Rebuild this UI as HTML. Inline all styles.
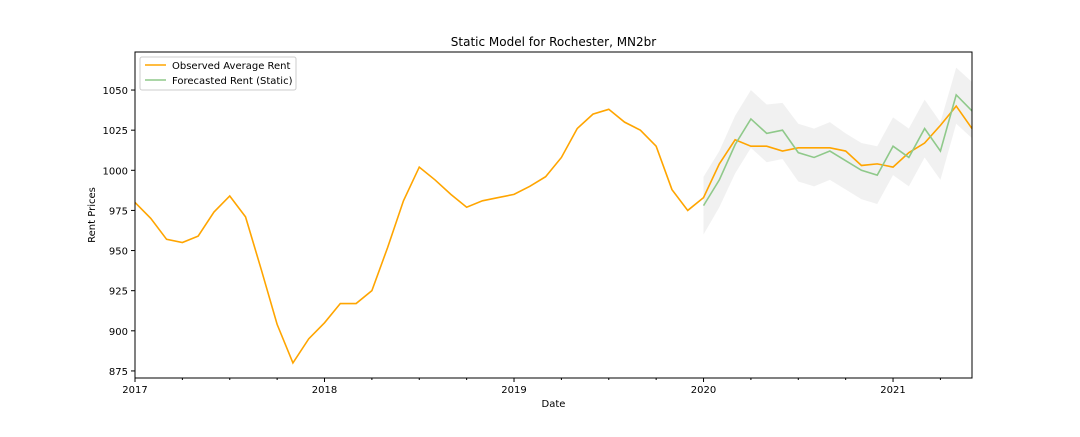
<!DOCTYPE html>
<html><head><meta charset="utf-8"><style>
body{margin:0;background:#fff;}
svg text{font-family:"DejaVu Sans","Liberation Sans",sans-serif;fill:#000;}
</style></head><body>
<svg id="chart" width="1080" height="432"></svg>
<script>
const observedStart = [2017, 1];
const observed = [980,970,957,955,959,974,984,971,938,904,880,895,
905,917,917,925,952,981,1002,994,985,977,981,983,
985,990,996,1008,1026,1035,1038,1030,1025,1015,988,975,
983,1004,1019,1015,1015,1012,1014,1014,1014,1012,1003,1004,
1002,1011,1017,1028,1040,1026];
const forecastStart = [2020, 1];
const forecast = [978,994,1016,1032,1023,1025,1011,1008,1012,1006,1000,997,1015,1008,1026,1012,1047,1037];
const upper = [996,1012,1034,1050,1041,1042,1029,1026,1030,1023,1017,1015,1033,1026,1044,1030,1064,1055];
const lower = [960,977,998,1014,1005,1007,993,990,994,988,982,979,997,990,1008,994,1029,1020];
const yTicks = [875,900,925,950,975,1000,1025,1050];
const xTickYears = [2017,2018,2019,2020,2021];

const L=135,R=972,T=52,B=378;
const tMin=2017, tMax=2021+5/12;
const yMin=870.6, yMax=1073.7;
const sx=t=>L+(t-tMin)/(tMax-tMin)*(R-L);
const sy=v=>B-(v-yMin)/(yMax-yMin)*(B-T);
const mt=(s,i)=>s[0]+(s[1]-1+i)/12;
const svg=document.getElementById('chart');
const NS='http://www.w3.org/2000/svg';
function mk(tag,attrs,parent){const e=document.createElementNS(NS,tag);for(const k in attrs)e.setAttribute(k,attrs[k]);(parent||svg).appendChild(e);return e;}

let pts=upper.map((v,i)=>sx(mt(forecastStart,i))+','+sy(v));
for(let i=lower.length-1;i>=0;i--)pts.push(sx(mt(forecastStart,i))+','+sy(lower[i]));
const band=mk('polygon',{points:pts.join(' '),fill:'#000','fill-opacity':0.055,stroke:'none'});



const obs=mk('polyline',{points:observed.map((v,i)=>sx(mt(observedStart,i))+','+sy(v)).join(' '),fill:'none',stroke:'#ffa500','stroke-width':1.6});


const fc=mk('polyline',{points:forecast.map((v,i)=>sx(mt(forecastStart,i))+','+sy(v)).join(' '),fill:'none',stroke:'#8fc98a','stroke-width':1.6});



const fr=mk('rect',{x:L,y:T,width:R-L,height:B-T,fill:'none',stroke:'#000','stroke-width':1});



yTicks.forEach(v=>{
  const y=sy(v);
  mk('line',{x1:L-4,x2:L,y1:y,y2:y,stroke:'#000'});
  const t=mk('text',{x:L-7,y:y+4,'text-anchor':'end','font-size':10});
  t.textContent=v;
  
  
});
for(let m=0;m<=53;m+=3){
  const x=sx(2017+m/12);
  const major=m%12===0;
  mk('line',{x1:x,x2:x,y1:B,y2:B+(major?4:2),stroke:'#000'});
}
xTickYears.forEach(yr=>{
  const t=mk('text',{x:sx(yr),y:B+15,'text-anchor':'middle','font-size':10});
  t.textContent=yr;
  
  
});
const tt=mk('text',{x:(L+R)/2,y:46,'text-anchor':'middle','font-size':12});
tt.textContent='Static Model for Rochester, MN2br';


const xl=mk('text',{x:(L+R)/2,y:407,'text-anchor':'middle','font-size':10});
xl.textContent='Date';


const yl=mk('text',{x:95,y:(T+B)/2,'text-anchor':'middle','font-size':10,transform:'rotate(-90 95 '+((T+B)/2)+')'});
yl.textContent='Rent Prices';



const lg=mk('g',{});


mk('rect',{x:140,y:57,width:156,height:33,rx:2,fill:'#fff','fill-opacity':0.8,stroke:'#ccc'},lg);
mk('line',{x1:145,x2:166,y1:65,y2:65,stroke:'#ffa500','stroke-width':1.6},lg);
const l1=mk('text',{x:172,y:69,'font-size':10},lg);
l1.textContent='Observed Average Rent';


mk('line',{x1:145,x2:166,y1:80,y2:80,stroke:'#8fc98a','stroke-width':1.6},lg);
const l2=mk('text',{x:172,y:84,'font-size':10},lg);
l2.textContent='Forecasted Rent (Static)';


</script>
</body></html>
